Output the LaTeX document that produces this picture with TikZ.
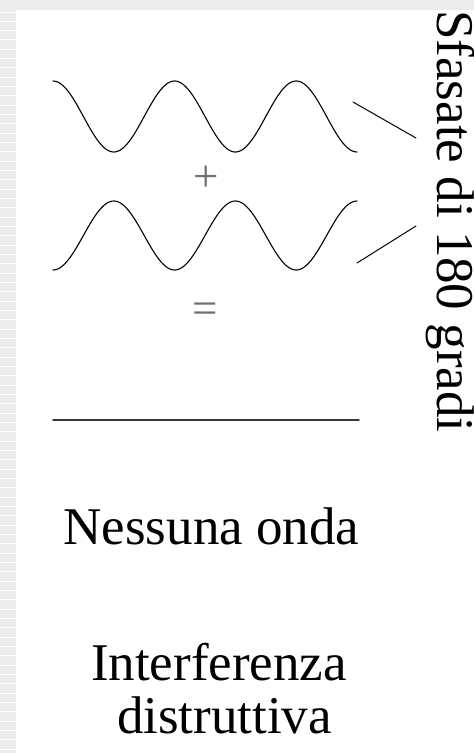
\documentclass[tikz,border=0pt]{standalone}
\usepackage{fontspec}
\setmainfont{Liberation Serif}
\usepackage{tikz}
\usetikzlibrary{positioning}
\definecolor{stripgray}{HTML}{EDEDED}
\definecolor{signgray}{HTML}{707070}
\definecolor{rulegray}{HTML}{3A3A3A}

\begin{document}
\begin{tikzpicture}[x=1pt,y=-1pt,line cap=round,line join=round,
  bigtext/.style={font=\fontsize{53}{53}\selectfont,inner sep=0pt},
  signtext/.style={font=\fontsize{45}{45}\selectfont,text=signgray,inner sep=0pt},
  wave/.style={line width=1.1pt,domain=53:357,samples=200}]
\useasboundingbox(0,0)rectangle(474,753);
% slide frame
\fill[stripgray](0,0)rectangle(474,10);
\fill[stripgray](0,10)rectangle(16,753);
\foreach \y in {12,21.33,...,752}
  \draw[white,line width=1pt](0,\y)--(16,\y);
% the two waves, half a period apart
\draw[wave]plot(\x,{116.5-35.5*cos(2.9605*(\x-53))});
\draw[wave]plot(\x,{235.5+34.5*cos(2.9605*(\x-53))});
\node[signtext](plus)at(206,179){+};
\node[signtext](equal)at(205.5,313){=};
\draw[line width=1.5pt,rulegray](53,420)--(359,420);
% label on the right and its pointers
\node[bigtext,rotate=-90,anchor=base west](phase)at(437.5,10){Sfasate di 180 gradi};
\coordinate(topend)at(353,102);
\coordinate(topmark)at(416,138);
\coordinate(lowend)at(357,263);
\coordinate(lowmark)at(416,226);
\draw[line width=1pt](topend)--(topmark);
\draw[line width=1pt](lowend)--(lowmark);
% captions
\node[bigtext,anchor=base](nowave)at(211.5,544){Nessuna onda};
\node[bigtext,anchor=base](interf)at(219,680){Interferenza};
\node[bigtext,anchor=base](destr)at(224.5,733){distruttiva};
\end{tikzpicture}
\end{document}
